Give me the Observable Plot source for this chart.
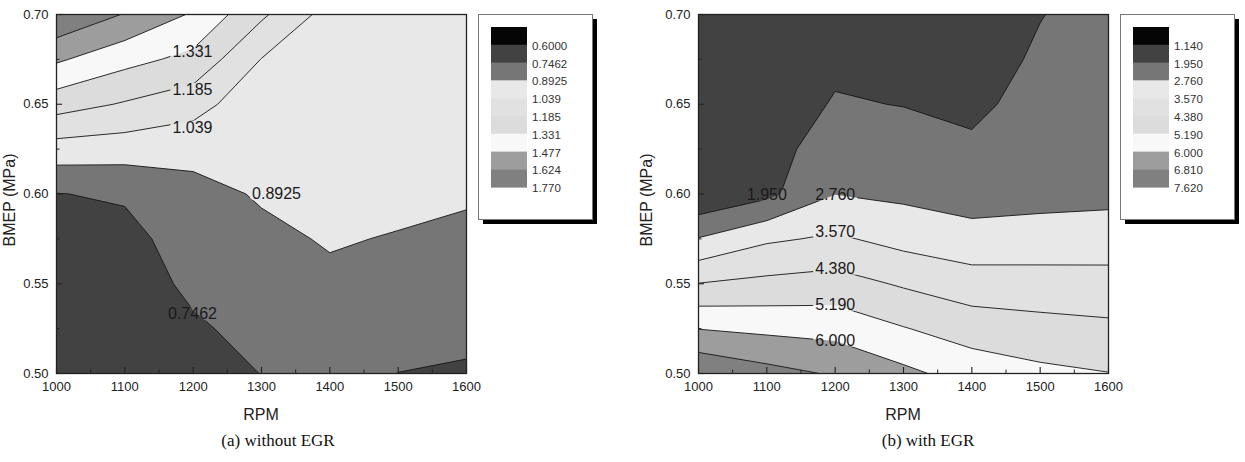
<!DOCTYPE html>
<html>
<head>
<meta charset="utf-8">
<script src="https://cdn.jsdelivr.net/npm/d3@7"></script>
<script src="https://cdn.jsdelivr.net/npm/@observablehq/plot@0.6"></script>
<style>
  html, body { margin: 0; padding: 0; background: #fff; }
  body { width: 1245px; height: 462px; overflow: hidden; position: relative; font-family: Arial, "Liberation Sans", sans-serif; }
  .panel { position: absolute; top: 0; }
  .panel svg { overflow: visible; }
  .caption { position: absolute; top: 430px; line-height: 22px; font-family: "Liberation Serif", "Times New Roman", serif; font-size: 17px; color: #111; transform: translateX(-50%); white-space: nowrap; }
</style>
</head>
<body>
<div id="pa" class="panel" style="left:0px"></div>
<div id="pb" class="panel" style="left:642px"></div>
<div class="caption" style="left:278px">(a) without EGR</div>
<div class="caption" style="left:928px">(b) with EGR</div>
<script>
// ---------- data ----------
const rpm  = [1000, 1100, 1200, 1300, 1400, 1500, 1600];          // grid columns
const bmep = [0.70, 0.675, 0.65, 0.625, 0.60, 0.575, 0.55, 0.525, 0.50]; // grid rows, top to bottom

// (a) without EGR — value estimated at each grid node
const zA = [
  [1.760, 1.615, 1.460, 1.210, 0.980, 0.970, 0.970],
  [1.498, 1.377, 1.291, 1.035, 0.960, 0.955, 0.950],
  [1.248, 1.172, 1.100, 0.930, 0.945, 0.940, 0.940],
  [0.976, 0.961, 0.935, 0.925, 0.930, 0.930, 0.925],
  [0.742, 0.764, 0.850, 0.905, 0.915, 0.925, 0.908],
  [0.720, 0.700, 0.817, 0.865, 0.903, 0.885, 0.864],
  [0.700, 0.680, 0.773, 0.826, 0.869, 0.838, 0.820],
  [0.680, 0.660, 0.728, 0.786, 0.835, 0.791, 0.776],
  [0.660, 0.650, 0.700, 0.748, 0.800, 0.745, 0.732]
];
// (b) with EGR
const zB = [
  [1.40, 1.45, 1.40, 1.25, 1.25, 1.92, 2.30],
  [1.35, 1.50, 1.80, 1.55, 1.55, 2.08, 2.36],
  [1.30, 1.52, 2.01, 1.93, 1.73, 2.32, 2.42],
  [1.25, 1.60, 2.40, 2.27, 2.12, 2.42, 2.48],
  [1.22, 1.75, 2.746, 2.60, 2.40, 2.50, 2.55],
  [2.80, 3.45, 3.69, 3.30, 3.06, 3.10, 3.15],
  [4.40, 4.58, 4.70, 4.29, 3.94, 3.91, 3.87],
  [5.98, 5.82, 5.72, 5.23, 4.82, 4.65, 4.54],
  [7.545, 7.08, 6.73, 6.19, 5.66, 5.37, 5.21]
];

const levelLabelsA = ["0.6000", "0.7462", "0.8925", "1.039", "1.185", "1.331", "1.477", "1.624", "1.770"];
const levelLabelsB = ["1.140", "1.950", "2.760", "3.570", "4.380", "5.190", "6.000", "6.810", "7.620"];

// contour labels (on the lines)
const labelsA = [
  {rpm: 1199, bmep: 0.679, text: "1.331"},
  {rpm: 1199, bmep: 0.658, text: "1.185"},
  {rpm: 1199, bmep: 0.637, text: "1.039"},
  {rpm: 1322, bmep: 0.600, text: "0.8925"},
  {rpm: 1199, bmep: 0.533, text: "0.7462"}
];
const labelsB = [
  {rpm: 1100, bmep: 0.5997, text: "1.950"},
  {rpm: 1200, bmep: 0.5997, text: "2.760"},
  {rpm: 1200, bmep: 0.579, text: "3.570"},
  {rpm: 1200, bmep: 0.5585, text: "4.380"},
  {rpm: 1200, bmep: 0.5384, text: "5.190"},
  {rpm: 1200, bmep: 0.5184, text: "6.000"}
];

const xTicks = [1000, 1100, 1200, 1300, 1400, 1500, 1600];
const xMinor = [1050, 1150, 1250, 1350, 1450, 1550];
const yTicks = [0.50, 0.55, 0.60, 0.65, 0.70];
const yMinor = [0.525, 0.575, 0.625, 0.675];

const xTitle = "RPM";
const yTitle = "BMEP (MPa)";

// legend swatch greys (first = below lowest level)
const legendGrays = ["#050505", "#424242", "#767676", "#e8e8e8", "#e1e1e1", "#dcdcdc", "#f8f8f8", "#9d9d9d", "#808080"];

// ---------- drawing ----------
function drawPanel(host, z, levelLabels, labels, maskId, yTitleX) {
  const levels = levelLabels.map(Number);
  const values = z.flat();
  const hx = (rpm[1] - rpm[0]) / 2, hy = (bmep[0] - bmep[1]) / 2;
  const grid = {
    width: rpm.length, height: bmep.length,
    x1: rpm[0] - hx, x2: rpm[rpm.length - 1] + hx,
    y1: bmep[0] + hy, y2: bmep[bmep.length - 1] - hy,
    thresholds: levels, clip: true
  };
  const W = 600, H = 425, ML = 56, MR = 134, MT = 14, MB = 52;
  const innerW = W - ML - MR, innerH = H - MT - MB;
  const bandColors = [...legendGrays.slice(1), "#606060"];

  const node = Plot.plot({
    width: W, height: H,
    marginLeft: ML, marginRight: MR, marginTop: MT, marginBottom: MB,
    style: {fontFamily: "Arial, 'Liberation Sans', sans-serif", background: "transparent", color: "#222", overflow: "visible"},
    x: {domain: [rpm[0], rpm[rpm.length - 1]]},
    y: {domain: [bmep[bmep.length - 1], bmep[0]]},
    color: {type: "ordinal", domain: levels, range: bandColors},
    marks: [
      Plot.contour(values, {...grid, fill: Plot.identity, stroke: "none"}),
      Plot.contour(values, {...grid, value: Plot.identity, fill: "none", stroke: "#151515", strokeWidth: 0.9}),
      Plot.tickX(xTicks, {x: d => d, insetTop: innerH - 6, stroke: "#222", strokeWidth: 1.1}),
      Plot.tickX(xMinor, {x: d => d, insetTop: innerH - 3.5, stroke: "#222", strokeWidth: 1}),
      Plot.tickY(yTicks, {y: d => d, insetRight: innerW - 6, stroke: "#222", strokeWidth: 1.1}),
      Plot.tickY(yMinor, {y: d => d, insetRight: innerW - 3.5, stroke: "#222", strokeWidth: 1}),
      Plot.frame({stroke: "#222", strokeWidth: 1.3}),
      Plot.axisX(xTicks, {tickSize: 0, tickPadding: 8, fontSize: 13, label: null, tickFormat: d => String(d), fill: "#222"}),
      Plot.axisY(yTicks, {tickSize: 0, tickPadding: 8, fontSize: 13, label: null, tickFormat: d => d.toFixed(2), fill: "#222"}),
      Plot.text(labels, {x: "rpm", y: "bmep", text: "text", fontSize: 16, fill: "#1a1a1a"})
    ]
  });
  host.appendChild(node);
  const svg = d3.select(node);

  // axis titles
  svg.append("text")
    .attr("x", ML + innerW / 2).attr("y", 414)
    .attr("text-anchor", "middle").attr("dy", "0.35em")
    .style("font-size", "16px").attr("fill", "#222").text(xTitle);
  svg.append("text")
    .attr("transform", `translate(${yTitleX},200) rotate(-90)`)
    .attr("text-anchor", "middle").attr("dy", "0.35em")
    .style("font-size", "16px").attr("fill", "#222").text(yTitle);

  // break contour lines behind their labels
  const svgRect = node.getBoundingClientRect();
  const defs = svg.append("defs");
  const mask = defs.append("mask").attr("id", maskId)
    .attr("maskUnits", "userSpaceOnUse").attr("x", -100).attr("y", -100).attr("width", W + 200).attr("height", H + 200);
  mask.append("rect").attr("x", -100).attr("y", -100).attr("width", W + 200).attr("height", H + 200).attr("fill", "white");
  svg.selectAll('g[aria-label="text"] text').each(function () {
    const r = this.getBoundingClientRect();
    mask.append("rect")
      .attr("x", r.left - svgRect.left - 2).attr("y", r.top - svgRect.top + 2)
      .attr("width", r.width + 4).attr("height", r.height - 4).attr("fill", "black");
  });
  const lineGroup = svg.selectAll('g[aria-label="contour"]').nodes()[1];
  if (lineGroup) {
    const wrap = document.createElementNS("http://www.w3.org/2000/svg", "g");
    lineGroup.parentNode.insertBefore(wrap, lineGroup);
    wrap.appendChild(lineGroup);
    wrap.setAttribute("mask", `url(#${maskId})`);
  }

  // legend
  const lg = svg.append("g").attr("transform", `translate(${ML + innerW + 12},${MT})`).attr("text-anchor", "start");
  lg.append("rect").attr("x", 5).attr("y", 5).attr("width", 114).attr("height", 205).attr("fill", "#000");
  lg.append("rect").attr("x", 0.5).attr("y", 0.5).attr("width", 114).attr("height", 205)
    .attr("fill", "#fff").attr("stroke", "#777").attr("stroke-width", 1);
  const sh = 17.8;
  legendGrays.forEach((c, i) => {
    lg.append("rect").attr("x", 13).attr("y", 13 + i * sh).attr("width", 36).attr("height", sh + 0.4).attr("fill", c);
  });
  levelLabels.forEach((t, i) => {
    lg.append("text").attr("x", 54).attr("y", 13 + (i + 1) * sh + 1).attr("dy", "0.35em")
      .attr("text-anchor", "start")
      .style("font-size", "11.5px").attr("fill", "#333").text(t);
  });
}

drawPanel(document.getElementById("pa"), zA, levelLabelsA, labelsA, "maskA", 9);
drawPanel(document.getElementById("pb"), zB, levelLabelsB, labelsB, "maskB", 4);
</script>
</body>
</html>
